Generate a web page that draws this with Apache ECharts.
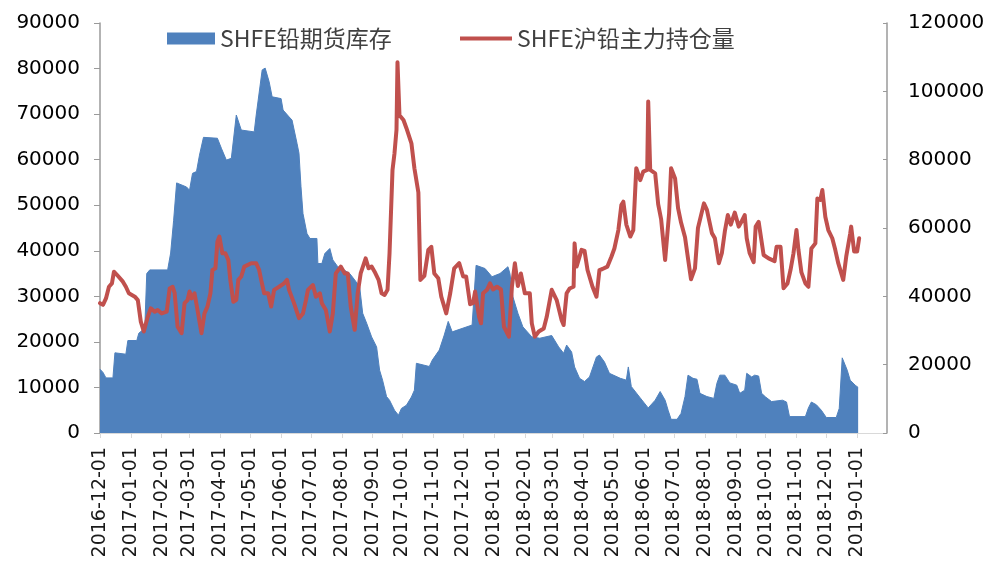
<!DOCTYPE html>
<html>
<head>
<meta charset="utf-8">
<script src="https://cdn.jsdelivr.net/npm/echarts@6/dist/echarts.min.js"></script>
<style>
  html, body { margin: 0; padding: 0; background: #fff; }
  #chart { width: 992px; height: 561px; }
</style>
</head>
<body>
<div id="chart"></div>
<script>
// ---------- DATA ----------
const seriesNames = ['SHFE铅期货库存', 'SHFE沪铅主力持仓量'];

const tickLabels = ['2016-12-01','2017-01-01','2017-02-01','2017-03-01','2017-04-01','2017-05-01','2017-06-01',
  '2017-07-01','2017-08-01','2017-09-01','2017-10-01','2017-11-01','2017-12-01','2018-01-01','2018-02-01',
  '2018-03-01','2018-04-01','2018-05-01','2018-06-01','2018-07-01','2018-08-01','2018-09-01','2018-10-01',
  '2018-11-01','2018-12-01','2019-01-01'];
const axisStart = '2016-12-01';
const axisEnd = '2019-01-31';

const leftTicks = { min: 0, max: 90000, step: 10000 };
const rightTicks = { min: 0, max: 120000, step: 20000 };

// SHFE lead futures inventory (left axis)
const stockDates = ['2016-12-01','2016-12-04','2016-12-07','2016-12-14','2016-12-16','2016-12-27','2016-12-29','2017-01-07','2017-01-09','2017-01-15','2017-01-17','2017-01-20','2017-02-07','2017-02-10','2017-02-13','2017-02-16','2017-02-26','2017-03-01','2017-03-04','2017-03-08','2017-03-11','2017-03-15','2017-03-29','2017-04-02','2017-04-07','2017-04-12','2017-04-17','2017-04-22','2017-05-05','2017-05-07','2017-05-13','2017-05-16','2017-05-20','2017-05-23','2017-06-01','2017-06-03','2017-06-09','2017-06-12','2017-06-17','2017-06-19','2017-06-21','2017-06-23','2017-06-27','2017-06-30','2017-07-07','2017-07-08','2017-07-12','2017-07-15','2017-07-20','2017-07-23','2017-07-28','2017-08-01','2017-08-09','2017-08-14','2017-08-19','2017-08-22','2017-08-26','2017-08-31','2017-09-05','2017-09-08','2017-09-11','2017-09-15','2017-09-18','2017-09-23','2017-09-27','2017-09-30','2017-10-05','2017-10-10','2017-10-13','2017-10-15','2017-10-17','2017-10-28','2017-10-31','2017-11-07','2017-11-12','2017-11-16','2017-11-20','2017-12-10','2017-12-14','2017-12-23','2017-12-30','2018-01-07','2018-01-15','2018-01-17','2018-01-20','2018-01-25','2018-01-30','2018-02-08','2018-02-16','2018-02-28','2018-03-07','2018-03-12','2018-03-15','2018-03-20','2018-03-23','2018-03-28','2018-04-02','2018-04-07','2018-04-14','2018-04-17','2018-04-22','2018-04-27','2018-05-08','2018-05-14','2018-05-16','2018-05-19','2018-05-28','2018-06-05','2018-06-12','2018-06-17','2018-06-22','2018-06-25','2018-06-28','2018-07-04','2018-07-08','2018-07-12','2018-07-15','2018-07-20','2018-07-24','2018-07-27','2018-08-03','2018-08-10','2018-08-13','2018-08-16','2018-08-21','2018-08-26','2018-09-02','2018-09-05','2018-09-10','2018-09-12','2018-09-17','2018-09-20','2018-09-24','2018-09-27','2018-10-01','2018-10-07','2018-10-18','2018-10-22','2018-10-25','2018-11-10','2018-11-13','2018-11-16','2018-11-21','2018-11-26','2018-12-01','2018-12-11','2018-12-14','2018-12-17','2018-12-22','2018-12-25','2018-12-30','2019-01-02'];
const stockValues = [14000,13300,12100,12100,17600,17300,20300,20300,21900,23000,35000,35800,35800,39500,46700,54900,54000,53300,57000,57400,61000,64900,64700,62500,59900,60300,69800,66500,66100,69800,79700,80100,77100,73800,73400,70900,69400,68700,63600,61400,54100,48200,43800,42700,42700,37200,37200,39400,40500,38000,36500,36100,35000,33600,32100,26300,24100,21100,18900,13800,11600,8000,7200,5000,3900,5400,6100,7900,9400,15300,15600,14600,16000,18200,21500,24500,22200,23700,36800,36100,34300,35000,36500,35000,29900,26300,23300,21100,20800,21400,18900,17500,19300,17800,14500,12000,11300,12300,16700,17100,15600,13100,12000,11600,14500,10200,7700,5500,7200,9100,7200,5000,3000,3000,4300,8000,12700,12000,11800,8700,8000,7600,10900,12700,12700,11000,10500,8700,9400,13100,12300,12700,12500,8700,7900,6900,7200,6800,3600,3600,5500,6800,6200,5000,3400,3400,5400,16500,13800,11600,10500,10000];

// SHFE lead main-contract open interest (right axis)
const posDates = ['2016-12-01','2016-12-04','2016-12-07','2016-12-10','2016-12-13','2016-12-15','2016-12-18','2016-12-20','2016-12-24','2016-12-27','2016-12-30','2017-01-05','2017-01-08','2017-01-11','2017-01-14','2017-01-18','2017-01-21','2017-01-25','2017-01-28','2017-02-01','2017-02-06','2017-02-09','2017-02-12','2017-02-14','2017-02-17','2017-02-21','2017-02-24','2017-02-27','2017-03-01','2017-03-03','2017-03-06','2017-03-09','2017-03-13','2017-03-16','2017-03-19','2017-03-22','2017-03-24','2017-03-27','2017-03-29','2017-03-31','2017-04-03','2017-04-06','2017-04-09','2017-04-11','2017-04-14','2017-04-17','2017-04-19','2017-04-22','2017-04-25','2017-05-02','2017-05-07','2017-05-10','2017-05-12','2017-05-15','2017-05-19','2017-05-22','2017-05-25','2017-05-30','2017-06-04','2017-06-07','2017-06-09','2017-06-14','2017-06-19','2017-06-23','2017-06-26','2017-06-28','2017-07-03','2017-07-06','2017-07-10','2017-07-12','2017-07-16','2017-07-20','2017-07-23','2017-07-26','2017-07-31','2017-08-04','2017-08-07','2017-08-10','2017-08-14','2017-08-17','2017-08-20','2017-08-25','2017-08-28','2017-08-31','2017-09-03','2017-09-07','2017-09-10','2017-09-13','2017-09-16','2017-09-18','2017-09-21','2017-09-23','2017-09-25','2017-09-26','2017-09-28','2017-10-02','2017-10-05','2017-10-10','2017-10-13','2017-10-17','2017-10-19','2017-10-23','2017-10-27','2017-10-30','2017-11-02','2017-11-06','2017-11-09','2017-11-14','2017-11-18','2017-11-22','2017-11-27','2017-12-01','2017-12-04','2017-12-08','2017-12-11','2017-12-13','2017-12-17','2017-12-19','2017-12-21','2017-12-25','2017-12-28','2017-12-31','2018-01-04','2018-01-08','2018-01-11','2018-01-16','2018-01-19','2018-01-22','2018-01-25','2018-01-28','2018-02-01','2018-02-06','2018-02-08','2018-02-11','2018-02-15','2018-02-20','2018-02-23','2018-02-28','2018-03-05','2018-03-10','2018-03-12','2018-03-13','2018-03-15','2018-03-18','2018-03-22','2018-03-23','2018-03-25','2018-03-30','2018-04-02','2018-04-05','2018-04-10','2018-04-14','2018-04-17','2018-04-20','2018-04-25','2018-04-29','2018-05-02','2018-05-06','2018-05-09','2018-05-11','2018-05-14','2018-05-18','2018-05-21','2018-05-24','2018-05-28','2018-05-31','2018-06-04','2018-06-05','2018-06-07','2018-06-12','2018-06-15','2018-06-18','2018-06-22','2018-06-24','2018-06-26','2018-06-28','2018-07-02','2018-07-05','2018-07-08','2018-07-12','2018-07-15','2018-07-18','2018-07-22','2018-07-25','2018-07-31','2018-08-03','2018-08-08','2018-08-11','2018-08-15','2018-08-18','2018-08-21','2018-08-24','2018-08-27','2018-08-31','2018-09-02','2018-09-04','2018-09-07','2018-09-10','2018-09-12','2018-09-15','2018-09-19','2018-09-21','2018-09-24','2018-09-26','2018-09-29','2018-10-04','2018-10-10','2018-10-12','2018-10-16','2018-10-19','2018-10-23','2018-10-26','2018-10-29','2018-11-01','2018-11-03','2018-11-06','2018-11-10','2018-11-13','2018-11-16','2018-11-20','2018-11-22','2018-11-25','2018-11-27','2018-11-30','2018-12-03','2018-12-07','2018-12-10','2018-12-13','2018-12-18','2018-12-21','2018-12-25','2018-12-26','2018-12-29','2019-01-01','2019-01-03'];
const posValues = [38000,37500,39400,42800,43800,47200,46300,46700,44300,42800,40900,39900,38900,32600,29700,34000,36500,35500,36000,35000,35500,42300,42800,41000,31100,29200,38000,38900,41400,39400,40900,36000,29200,35000,37000,40900,47700,48200,56000,57500,52600,52600,50600,44800,38400,39000,44800,45800,48700,49700,49700,47700,44800,40900,40900,37000,41900,42800,43800,44800,41900,38000,33600,35000,38900,41900,43300,39900,40900,38000,36000,29700,35000,46700,48700,46700,46700,37000,30200,40900,46700,51100,48200,48700,47200,44800,40900,40400,41900,52600,77000,81900,88700,108500,93000,91600,89200,84800,77500,70400,44800,46000,53600,54500,46700,45300,39900,35000,40900,48200,49700,45800,45800,37700,38000,41400,34000,32100,40900,41900,43800,42000,42800,42000,31100,28200,42800,49700,43000,46700,40900,40900,32100,28200,29700,30600,34000,41900,38900,33000,31600,35000,40900,42300,42800,55500,48700,53600,53300,47700,42800,39900,47700,48000,48700,51600,54000,59400,66700,67700,61000,57500,59400,77500,74000,76500,77000,97000,77000,76000,67000,62500,50600,50200,64300,77500,74500,65800,61600,57300,51100,45000,48200,60000,67200,65300,58500,57000,49700,52600,59000,63800,61000,64500,64800,60400,62000,63800,57000,52600,50000,60400,61800,61800,52100,51100,50300,54500,54500,42400,43800,47700,52600,59400,53600,47000,43800,42800,54000,55500,68600,68200,71100,63300,59400,57000,53600,49700,44800,51600,58400,60400,53100,53100,57000];

// ---------- BUILD ----------
function ts(s) { const p = s.split('-').map(Number); return Date.UTC(p[0], p[1] - 1, p[2]); }
function fmt(v) {
  const d = new Date(v);
  const pad = n => (n < 10 ? '0' : '') + n;
  return d.getUTCFullYear() + '-' + pad(d.getUTCMonth() + 1) + '-' + pad(d.getUTCDate());
}
const tickVals = tickLabels.map(ts);
const stockData = stockDates.map((d, i) => [ts(d), stockValues[i]]);
const posData = posDates.map((d, i) => [ts(d), posValues[i]]);

const numFont = 'DejaVu Sans';
const chart = echarts.init(document.getElementById('chart'), null, { renderer: 'canvas' });
chart.setOption({
  animation: false,
  backgroundColor: '#ffffff',
  grid: { left: 100, right: 105, top: 23, bottom: 128, containLabel: false, outerBoundsMode: 'none' },
  legend: [
    {
      data: [seriesNames[0]], left: 167, top: 27, padding: 0, icon: 'rect',
      itemWidth: 48, itemHeight: 12, itemGap: 5,
      textStyle: { fontFamily: 'Noto Sans CJK SC', fontSize: 23, color: '#404040' }
    },
    {
      data: [seriesNames[1]], left: 460, top: 27, padding: 0, icon: 'rect',
      itemWidth: 52, itemHeight: 4, itemGap: 5,
      textStyle: { fontFamily: 'Noto Sans CJK SC', fontSize: 23, color: '#404040' }
    }
  ],
  xAxis: {
    type: 'value',
    min: ts(axisStart),
    max: ts(axisEnd),
    axisLine: { show: true, lineStyle: { color: '#d9d9d9', width: 1 } },
    axisTick: { show: true, length: 5, lineStyle: { color: '#d9d9d9' }, customValues: tickVals },
    axisLabel: {
      customValues: tickVals, rotate: 90, margin: 14,
      formatter: v => fmt(v),
      fontFamily: numFont, fontSize: 19, color: '#1a1a1a'
    },
    splitLine: { show: false }
  },
  yAxis: [
    {
      type: 'value', min: leftTicks.min, max: leftTicks.max, interval: leftTicks.step, position: 'left',
      axisLine: { show: true, lineStyle: { color: '#9a9a9a', width: 1.5 } },
      axisTick: { show: true, length: 6, lineStyle: { color: '#9a9a9a' } },
      axisLabel: { margin: 20, fontFamily: numFont, fontSize: 20, color: '#000', formatter: v => String(v) },
      splitLine: { show: false }
    },
    {
      type: 'value', min: rightTicks.min, max: rightTicks.max, interval: rightTicks.step, position: 'right',
      axisLine: { show: true, lineStyle: { color: '#9a9a9a', width: 1.5 } },
      axisTick: { show: true, inside: true, length: 4, lineStyle: { color: '#9a9a9a' } },
      axisLabel: { margin: 21, fontFamily: numFont, fontSize: 20, color: '#000', formatter: v => String(v) },
      splitLine: { show: false }
    }
  ],
  series: [
    {
      name: seriesNames[0], type: 'line', yAxisIndex: 0, data: stockData,
      showSymbol: false, symbol: 'none',
      itemStyle: { color: '#4F81BD' },
      lineStyle: { color: '#4F81BD', width: 1 },
      areaStyle: { color: '#4F81BD', opacity: 1 },
      z: 1
    },
    {
      name: seriesNames[1], type: 'line', yAxisIndex: 1, data: posData,
      showSymbol: false, symbol: 'none',
      itemStyle: { color: '#C0504D' },
      lineStyle: { color: '#C0504D', width: 4, join: 'round', cap: 'round' },
      z: 3
    }
  ]
});
</script>
</body>
</html>
